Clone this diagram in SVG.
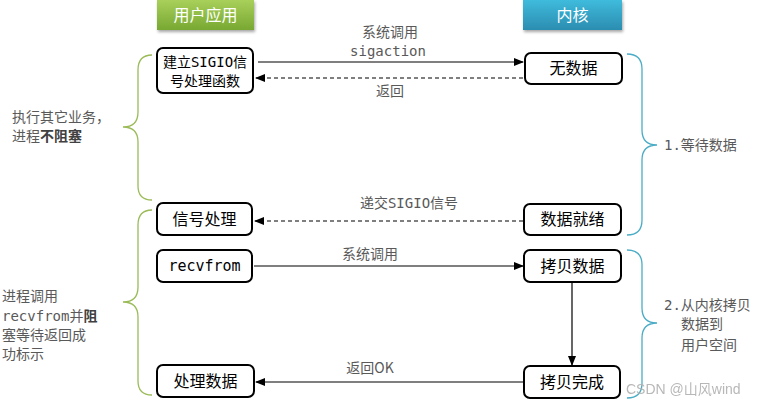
<svg xmlns="http://www.w3.org/2000/svg" width="766" height="408" viewBox="0 0 766 408">
<defs>
<linearGradient id="gGreen" x1="0" y1="0" x2="0" y2="1"><stop offset="0" stop-color="#a8d05a"/><stop offset="1" stop-color="#78a832"/></linearGradient>
<linearGradient id="gBlue" x1="0" y1="0" x2="0" y2="1"><stop offset="0" stop-color="#3fbbdc"/><stop offset="1" stop-color="#2b8db0"/></linearGradient>
<filter id="sh" x="-10%" y="-10%" width="130%" height="150%"><feDropShadow dx="1" dy="2" stdDeviation="1.5" flood-color="#000" flood-opacity="0.35"/></filter>
<marker id="ah" markerWidth="10" markerHeight="8" refX="9" refY="4" orient="auto" markerUnits="userSpaceOnUse"><path d="M0,0 L10,4 L0,8 Z" fill="#000"/></marker>
<style>
.node rect{fill:#fff;stroke:#000;stroke-width:2}
.nt{font-family:"Noto Sans CJK SC","Liberation Sans",sans-serif;font-size:16px;fill:#000;text-anchor:middle}
.lbl{font-family:"Noto Sans CJK SC","Liberation Sans",sans-serif;font-size:14px;fill:#595959}
.hd{font-family:"Noto Sans CJK SC","Liberation Sans",sans-serif;font-size:16px;fill:#fff;text-anchor:middle}
.mono{font-family:"DejaVu Sans Mono","Liberation Mono","Noto Sans CJK SC",monospace}
.solid{stroke:#000;stroke-width:1.2;fill:none}
.dash{stroke:#000;stroke-width:1.2;fill:none;stroke-dasharray:4,3}
.bg{stroke:#9bbb59;stroke-width:1.3;fill:none}
.bb{stroke:#4bacc6;stroke-width:1.3;fill:none}
</style>
</defs>
<rect width="766" height="408" fill="#fff"/>

<g id="hdr-user"><rect x="157" y="0" width="97" height="30" fill="url(#gGreen)" filter="url(#sh)"/><text class="hd" x="205.5" y="21">用户应用</text></g>
<g id="hdr-kernel"><rect x="523" y="0" width="99" height="30" fill="url(#gBlue)" filter="url(#sh)"/><text class="hd" x="572.5" y="21">内核</text></g>

<g id="connectors">
<line class="solid" x1="258" y1="62" x2="523" y2="62" marker-end="url(#ah)"/>
<line class="dash" x1="523" y1="78" x2="256" y2="78" marker-end="url(#ah)"/>
<line class="dash" x1="523" y1="221" x2="255" y2="221" marker-end="url(#ah)"/>
<line class="solid" x1="254" y1="266" x2="523" y2="266" marker-end="url(#ah)"/>
<line class="solid" x1="572" y1="283" x2="572" y2="365" marker-end="url(#ah)"/>
<line class="solid" x1="523" y1="382" x2="256" y2="382" marker-end="url(#ah)"/>
<text class="lbl" x="390" y="37" text-anchor="middle">系统调用</text>
<text class="lbl mono" x="388" y="56" text-anchor="middle">sigaction</text>
<text class="lbl" x="390" y="96" text-anchor="middle">返回</text>
<text class="lbl" x="409" y="208" text-anchor="middle">递交<tspan class="mono">SIGIO</tspan>信号</text>
<text class="lbl" x="370" y="259" text-anchor="middle">系统调用</text>
<text class="lbl" x="370" y="373" text-anchor="middle">返回OK</text>
</g>

<g id="n-setup" class="node"><rect x="157" y="48" width="96" height="45" rx="6"/><text class="nt" style="font-size:14px" x="205" y="67">建立<tspan class="mono">SIGIO</tspan>信</text><text class="nt" style="font-size:14px" x="205" y="86">号处理函数</text></g>
<g id="n-nodata" class="node"><rect x="525" y="53" width="97" height="31" rx="6"/><text class="nt" x="573.5" y="74">无数据</text></g>
<g id="n-sighandle" class="node"><rect x="157" y="203" width="95" height="32" rx="6"/><text class="nt" x="204.5" y="225">信号处理</text></g>
<g id="n-ready" class="node"><rect x="524" y="204" width="97" height="31" rx="6"/><text class="nt" x="572.5" y="225">数据就绪</text></g>
<g id="n-recvfrom" class="node"><rect x="157" y="250" width="95" height="32" rx="6"/><text class="nt mono" style="font-size:15px" x="204.5" y="271">recvfrom</text></g>
<g id="n-copy" class="node"><rect x="524" y="250" width="97" height="32" rx="6"/><text class="nt" x="572.5" y="272">拷贝数据</text></g>
<g id="n-process" class="node"><rect x="157" y="365" width="97" height="32" rx="6"/><text class="nt" x="205.5" y="387">处理数据</text></g>
<g id="n-copydone" class="node"><rect x="524" y="366" width="96" height="32" rx="6"/><text class="nt" x="572" y="388">拷贝完成</text></g>

<g id="brackets">
<path class="bg" d="M152,55 Q138,55 138,70 L138,112 Q138,127 123,127 Q138,127 138,142 L138,186 Q138,200 152,200"/>
<path class="bg" d="M152,210 Q138,210 138,225 L138,287 Q138,302 123,302 Q138,302 138,317 L138,381 Q138,395 152,395"/>
<path class="bb" d="M627,54 Q642,54 642,69 L642,130 Q642,145 657,145 Q642,145 642,160 L642,220 Q642,235 627,235"/>
<path class="bb" d="M627,250 Q642,250 642,265 L642,308 Q642,323 657,323 Q642,323 642,338 L642,383 Q642,398 627,398"/>
</g>

<g id="notes">
<text class="lbl" x="12" y="122">执行其它业务，</text>
<text class="lbl" x="12" y="141">进程<tspan font-weight="bold" fill="#404040">不阻塞</tspan></text>
<text class="lbl" x="2" y="301">进程调用</text>
<text class="lbl" x="2" y="321"><tspan class="mono">recvfrom</tspan>并<tspan font-weight="bold" fill="#404040">阻</tspan></text>
<text class="lbl" x="2" y="340">塞等待返回成</text>
<text class="lbl" x="2" y="359">功标示</text>
<text class="lbl" x="664" y="150"><tspan class="mono">1.</tspan>等待数据</text>
<text class="lbl" x="664" y="310"><tspan class="mono">2.</tspan>从内核拷贝</text>
<text class="lbl" x="681" y="329">数据到</text>
<text class="lbl" x="681" y="350">用户空间</text>
</g>
<text x="626" y="394" font-family="Liberation Sans, Noto Sans CJK SC, sans-serif" font-size="14" fill="#b0b0b0" opacity="0.9">CSDN @山风wind</text>
</svg>
